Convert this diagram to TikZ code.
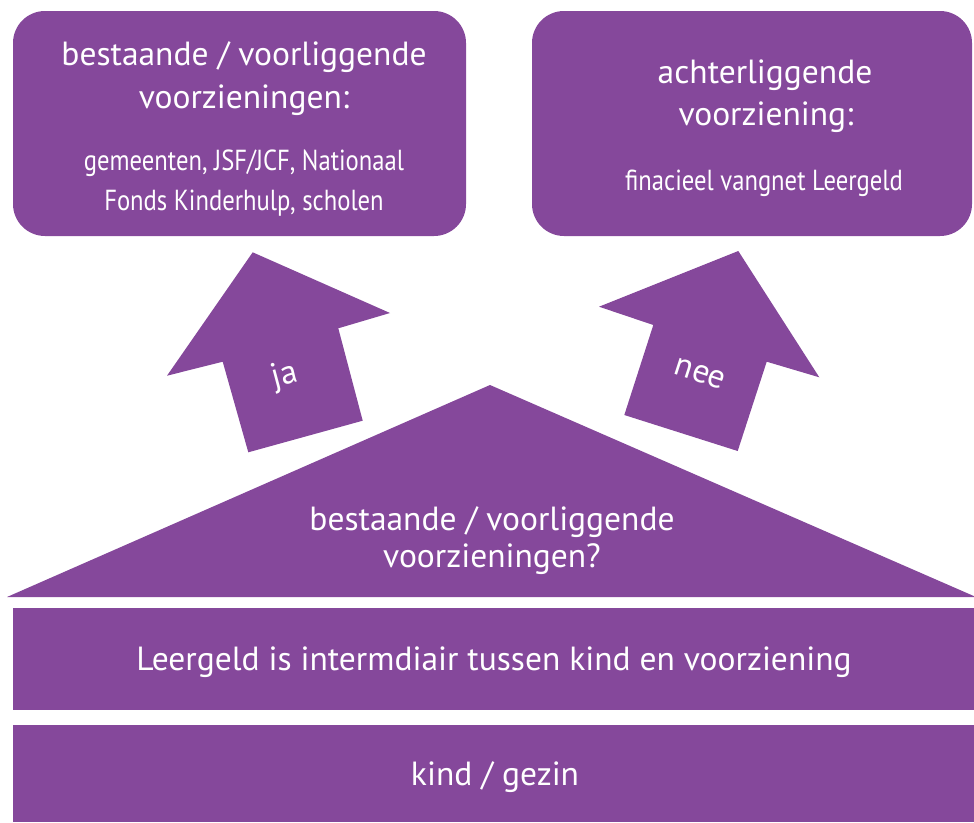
\documentclass[tikz,border=0pt]{standalone}
\usepackage{fontspec}
\setmainfont{PT Sans}
\newfontfamily\condfont[FakeStretch=0.85]{PT Sans}
\definecolor{lpurple}{HTML}{85489B}
\begin{document}
\begin{tikzpicture}[x=1pt,y=-1pt,
  shapefill/.style={fill=lpurple,draw=none},
  bigtxt/.style={text=white,anchor=base,inner sep=0pt,font=\fontsize{33.5}{40}\selectfont},
  smalltxt/.style={text=white,anchor=base,inner sep=0pt,font=\condfont\fontsize{29}{34}\selectfont}]
\useasboundingbox (0,0) rectangle (974,822);
% top boxes
\fill[shapefill,rounded corners=32pt] (13,11) rectangle (466,236);
\fill[shapefill,rounded corners=32pt] (532,11) rectangle (972,236);
% arrows
\fill[shapefill] (252.7,252.3) -- (390,313) -- (338.3,328.3) -- (362.7,420.7) -- (248.3,452.3) -- (222.7,361.7) -- (167,375.7) -- cycle;
\fill[shapefill] (738.3,251) -- (819.3,377.3) -- (766.7,361.7) -- (737.7,451) -- (624.3,415) -- (653.3,325) -- (599,306.7) -- cycle;
% triangle
\fill[shapefill] (7,597) -- (490,385) -- (976,597) -- cycle;
% bars
\fill[shapefill] (13,608) rectangle (974,710);
\fill[shapefill] (13,725) rectangle (974,822);
% texts
\node[bigtxt] (t1) at (244,65) {bestaande / voorliggende};
\node[bigtxt] (t2) at (244,108) {voorzieningen:};
\node[smalltxt] (t3) at (244,170) {gemeenten, JSF/JCF, Nationaal};
\node[smalltxt] (t4) at (244,210) {Fonds Kinderhulp, scholen};
\node[bigtxt] (t5) at (765,83) {achterliggende};
\node[bigtxt] (t6) at (766,125) {voorziening:};
\node[smalltxt] (t7) at (764,190) {finacieel vangnet Leergeld};
\node[bigtxt,anchor=center,rotate=15] (ja) at (285,376) {ja};
\node[bigtxt,anchor=center,rotate=-18] (nee) at (700,374) {nee};
\node[bigtxt] (t8) at (492,530) {bestaande / voorliggende};
\node[bigtxt] (t9) at (492,567) {voorzieningen?};
\node[bigtxt] (t10) at (494,670) {Leergeld is intermdiair tussen kind en voorziening};
\node[bigtxt] (t11) at (495,785) {kind / gezin};
\end{tikzpicture}
\end{document}
